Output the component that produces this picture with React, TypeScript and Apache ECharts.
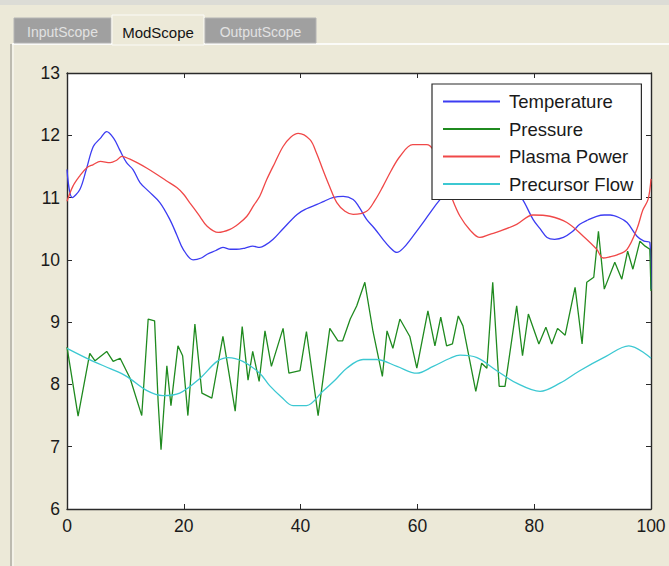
import React, { useEffect, useRef } from "react";
import * as echarts from "echarts";

const seriesNames = ["Temperature", "Pressure", "Plasma Power", "Precursor Flow"];
const seriesColors = ["#3c3cf2", "#1f8a1f", "#f04848", "#3cc8d2"];

const xTicks = [0, 20, 40, 60, 80, 100];
const yTicks = [6, 7, 8, 9, 10, 11, 12, 13];

const tabLabels = ["InputScope", "ModScope", "OutputScope"];

const tempT = [0, 0.9, 2.2, 3.3, 4.5, 5.7, 6.8, 8, 9, 10.2, 11.3, 12.5, 14, 15.9, 17.6, 18.8, 19.9, 21.6, 23, 24, 25.5, 26.7, 28, 29, 30.5, 31.8, 33, 34, 35.3, 37, 39.4, 41, 42.8, 44, 45.5, 47.3, 49, 50, 51.3, 52.7, 54.1, 55.3, 56.5, 57.5, 59, 61, 62.5, 63.9, 66, 68, 70, 72, 74, 76, 78, 79.8, 81, 82.2, 83.5, 85, 86.5, 87.8, 89.2, 90.7, 92, 93, 94.5, 95.9, 97.6, 98.8, 99.8, 100];
const tempV = [11.45, 11.0, 11.13, 11.45, 11.82, 11.95, 12.06, 11.95, 11.77, 11.56, 11.45, 11.24, 11.1, 10.92, 10.65, 10.4, 10.17, 10.0, 10.03, 10.09, 10.15, 10.2, 10.17, 10.17, 10.19, 10.22, 10.2, 10.24, 10.33, 10.5, 10.73, 10.82, 10.89, 10.94, 11.0, 11.02, 10.97, 10.85, 10.65, 10.5, 10.33, 10.2, 10.12, 10.18, 10.35, 10.6, 10.8, 10.97, 11.2, 11.4, 11.5, 11.45, 11.35, 11.2, 10.97, 10.65, 10.5, 10.36, 10.33, 10.36, 10.45, 10.57, 10.64, 10.7, 10.72, 10.72, 10.68, 10.6, 10.38, 10.3, 10.28, 9.53];

const presT = [0, 1.9, 3.9, 4.8, 6.8, 7.9, 9.1, 10.8, 12.8, 13.9, 15, 15.6, 16.1, 17.1, 17.8, 19, 19.8, 20.7, 21.9, 23.1, 24.8, 26.7, 28.8, 30, 31, 31.8, 32.9, 33.9, 35, 37, 38, 39.9, 41, 43, 45, 46.4, 47.2, 48.5, 49.6, 51, 52.4, 54, 54.8, 55.8, 57, 58.7, 59.9, 61.8, 63, 64, 65, 66, 67, 67.8, 70, 71, 71.9, 72.9, 74, 75, 77, 78, 79, 80.8, 82, 83, 84, 85.3, 87, 88.2, 89, 90.2, 91, 92, 93.8, 95, 96, 96.9, 98.1, 99, 99.8, 100];
const presV = [8.6, 7.49, 8.5, 8.38, 8.53, 8.37, 8.42, 8.1, 7.5, 9.05, 9.02, 7.73, 6.95, 8.3, 7.66, 8.62, 8.46, 7.5, 8.97, 7.86, 7.78, 8.77, 7.57, 8.93, 8.07, 8.53, 8.05, 8.86, 8.29, 8.9, 8.18, 8.22, 8.85, 7.5, 8.9, 8.7, 8.7, 9.05, 9.26, 9.64, 8.85, 8.13, 8.86, 8.58, 9.05, 8.77, 8.26, 9.18, 8.62, 9.08, 8.62, 8.65, 9.1, 8.94, 7.89, 8.34, 8.26, 9.64, 7.97, 7.97, 9.26, 8.46, 9.13, 8.65, 8.92, 8.65, 8.9, 8.79, 9.56, 8.65, 9.64, 9.72, 10.46, 9.53, 9.96, 9.69, 10.14, 9.85, 10.3, 10.22, 10.17, 9.5];

const powerT = [0, 1, 2.2, 3.4, 4.5, 5.7, 7.4, 8.5, 9.4, 10.7, 12, 13.7, 15.4, 17, 18.8, 20, 21, 22.5, 24, 25.9, 27.9, 29.4, 30.8, 32, 33, 34.2, 35.6, 37, 38.3, 39.6, 41.6, 42.7, 43.8, 45, 46.2, 47.6, 49, 51.3, 52.7, 54.1, 55.5, 57, 59.2, 61.6, 62.7, 64, 65, 66, 67.3, 69, 70.7, 72.4, 74.1, 77, 79.8, 82.7, 85.6, 88.4, 90.7, 91.8, 93, 94.2, 95.9, 97.6, 98.6, 99.5, 100];
const powerV = [10.94, 11.18, 11.35, 11.48, 11.53, 11.58, 11.56, 11.6, 11.66, 11.62, 11.56, 11.47, 11.37, 11.27, 11.16, 11.05, 10.92, 10.73, 10.54, 10.44, 10.49, 10.58, 10.7, 10.88, 11.02, 11.29, 11.56, 11.82, 11.97, 12.03, 11.93, 11.72, 11.45, 11.17, 10.92, 10.78, 10.73, 10.78, 10.95, 11.18, 11.43, 11.66, 11.85, 11.85, 11.77, 11.5, 11.25, 10.97, 10.7, 10.48, 10.36, 10.41, 10.46, 10.57, 10.72, 10.7, 10.6, 10.38, 10.17, 10.03, 10.05, 10.08, 10.17, 10.5, 10.8, 10.97, 11.3];

const flowT = [0, 4.5, 7.5, 10.2, 13.7, 16.4, 19.3, 22.8, 25.7, 27.6, 30.1, 33, 34.7, 36.7, 38.7, 41, 43.8, 46, 47.9, 50.7, 53, 56.5, 59.9, 62.7, 65.6, 67.3, 70.2, 73.6, 77, 81, 84.4, 87.8, 92.3, 96.2, 100];
const flowV = [8.58, 8.37, 8.25, 8.13, 7.9, 7.82, 7.86, 8.1, 8.37, 8.43, 8.37, 8.18, 7.98, 7.8, 7.66, 7.66, 7.89, 8.08, 8.26, 8.4, 8.4, 8.29, 8.18, 8.29, 8.42, 8.47, 8.43, 8.22, 8.02, 7.89, 8.02, 8.22, 8.45, 8.62, 8.42];

const pair = (ts: number[], vs: number[]) => ts.map((t, i) => [t, vs[i]]);

const FONT = "'Liberation Sans', Arial, Helvetica, sans-serif";

export default function App() {
  const ref = useRef<HTMLDivElement>(null);
  useEffect(() => {
    if (!ref.current) return;
    const chart = echarts.init(ref.current, null, { renderer: "svg" });
    const allData = [pair(tempT, tempV), pair(presT, presV), pair(powerT, powerV), pair(flowT, flowV)];
    const smoothFlags = [0.35, false, 0.35, 0.35];

    const axisCommon = {
      min: 0,
      axisLine: { show: true, onZero: false, lineStyle: { color: "#2a2a2a", width: 1.4 } },
      axisTick: { show: true, inside: true, length: 5, lineStyle: { color: "#2a2a2a", width: 1 } },
      splitLine: { show: false },
    };

    const tabX = [14, 112, 205];
    const tabW = [97, 92, 111];

    const graphics: any[] = [
      { type: "rect", shape: { x: 0, y: 0, width: 669, height: 5 }, style: { fill: "#dcdcd6" }, silent: true },
      { type: "line", shape: { x1: 12, y1: 44, x2: 669, y2: 44 }, style: { stroke: "#fbfbf8", lineWidth: 2 }, silent: true },
      { type: "line", shape: { x1: 11, y1: 44, x2: 11, y2: 566 }, style: { stroke: "#bdbbb0", lineWidth: 2 }, silent: true },
      { type: "line", shape: { x1: 13, y1: 44, x2: 13, y2: 566 }, style: { stroke: "#fbfbf8", lineWidth: 1 }, silent: true },
    ];
    tabLabels.forEach((label, i) => {
      const selected = i === 1;
      const y = selected ? 15 : 18;
      const h = selected ? 30 : 25;
      graphics.push({
        type: "rect",
        shape: { x: tabX[i], y, width: tabW[i], height: h },
        style: { fill: selected ? "#ece9d8" : "#a0a0a0", stroke: selected ? "#fbfbf8" : "#b4b4b4", lineWidth: 1 },
        silent: true,
      });
      graphics.push({
        type: "text",
        x: tabX[i] + tabW[i] / 2,
        y: 32,
        style: {
          text: label,
          fill: selected ? "#141414" : "#e2e2e2",
          font: `${selected ? 15 : 14}px ${FONT}`,
          textAlign: "center",
          textVerticalAlign: "middle",
        },
        silent: true,
      });
    });

    chart.setOption({
      animation: false,
      backgroundColor: "#ece9d8",
      graphic: graphics,
      grid: { left: 67, top: 73, width: 584, height: 436, show: true, backgroundColor: "#ffffff", borderWidth: 0 },
      legend: {
        data: seriesNames,
        orient: "vertical",
        left: 432,
        top: 84,
        icon: "rect",
        itemWidth: 57,
        itemHeight: 2,
        itemGap: 8.5,
        padding: [8, 8, 6, 11],
        backgroundColor: "#ffffff",
        borderColor: "#2a2a2a",
        borderWidth: 1.2,
        borderRadius: 0,
        textStyle: { fontFamily: FONT, fontSize: 18.5, color: "#1a1a1a", padding: [0, 0, 0, 4] },
        selectedMode: false,
      },
      xAxis: [
        {
          ...axisCommon,
          type: "value",
          max: 100,
          interval: 20,
          position: "bottom",
          axisLabel: {
            show: true,
            margin: 8,
            fontFamily: FONT,
            fontSize: 17.5,
            color: "#1a1a1a",
            formatter: (v: number) => (xTicks.includes(v) ? String(v) : ""),
          },
        },
        {
          ...axisCommon,
          type: "value",
          max: 100,
          interval: 20,
          position: "top",
          axisLabel: { show: false },
        },
      ],
      yAxis: [
        {
          ...axisCommon,
          type: "value",
          min: 6,
          max: 13,
          interval: 1,
          position: "left",
          axisLabel: {
            show: true,
            margin: 7,
            fontFamily: FONT,
            fontSize: 17.5,
            color: "#1a1a1a",
            formatter: (v: number) => (yTicks.includes(v) ? String(v) : ""),
          },
        },
        {
          ...axisCommon,
          type: "value",
          min: 6,
          max: 13,
          interval: 1,
          position: "right",
          axisLabel: { show: false },
        },
      ],
      series: seriesNames.map((name, i) => ({
        name,
        type: "line",
        xAxisIndex: 0,
        yAxisIndex: 0,
        data: allData[i],
        smooth: smoothFlags[i],
        symbol: "none",
        showSymbol: false,
        color: seriesColors[i],
        lineStyle: { color: seriesColors[i], width: 1.3 },
        z: 2,
      })),
    });
    return () => chart.dispose();
  }, []);
  return (
    <div
      ref={ref}
      style={{ position: "absolute", left: 0, top: 0, width: 669, height: 566, background: "#ece9d8" }}
    />
  );
}
